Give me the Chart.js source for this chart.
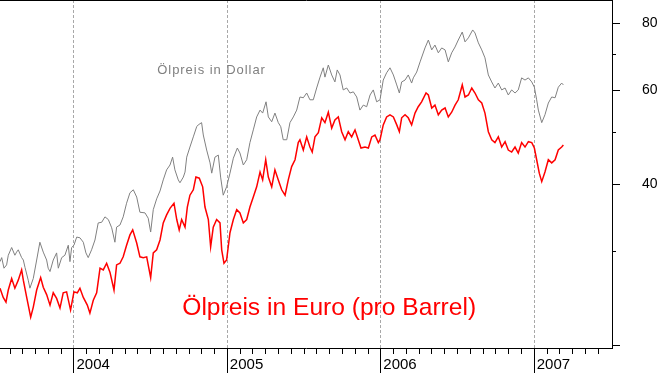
<!DOCTYPE html>
<html>
<head>
<meta charset="utf-8">
<script src="https://cdn.jsdelivr.net/npm/chart.js@4"></script>
<style>
  body { margin: 0; background: #fff; }
  canvas { display: block; }
</style>
</head>
<body>
<canvas id="chart" width="663" height="373"></canvas>
<script>
// dates are decimal years, prices per barrel
const usdDates = [
  2003.518, 2003.529, 2003.544, 2003.561, 2003.572, 2003.594, 2003.615, 2003.626, 2003.637, 2003.659,
  2003.670, 2003.681, 2003.702, 2003.713, 2003.735, 2003.757, 2003.778, 2003.800, 2003.822, 2003.832,
  2003.844, 2003.865, 2003.887, 2003.898, 2003.920, 2003.941, 2003.963, 2003.974, 2003.985, 2004.000,
  2004.018, 2004.039, 2004.061, 2004.078, 2004.093, 2004.115, 2004.137, 2004.158, 2004.181, 2004.202,
  2004.224, 2004.246, 2004.267, 2004.278, 2004.300, 2004.321, 2004.343, 2004.365, 2004.387, 2004.409,
  2004.430, 2004.463, 2004.484, 2004.500, 2004.517, 2004.539, 2004.561, 2004.582, 2004.604, 2004.626,
  2004.643, 2004.658, 2004.680, 2004.691, 2004.713, 2004.724, 2004.735, 2004.756, 2004.778, 2004.800,
  2004.810, 2004.832, 2004.843, 2004.865, 2004.887, 2004.898, 2004.919, 2004.941, 2004.956, 2004.973,
  2004.995, 2005.017, 2005.039, 2005.065, 2005.082, 2005.104, 2005.126, 2005.147, 2005.169, 2005.191,
  2005.213, 2005.230, 2005.252, 2005.267, 2005.289, 2005.310, 2005.332, 2005.348, 2005.364, 2005.387,
  2005.408, 2005.430, 2005.452, 2005.473, 2005.495, 2005.517, 2005.538, 2005.560, 2005.582, 2005.604,
  2005.625, 2005.636, 2005.658, 2005.680, 2005.701, 2005.716, 2005.734, 2005.755, 2005.778, 2005.799,
  2005.821, 2005.843, 2005.864, 2005.886, 2005.908, 2005.930, 2005.951, 2005.973, 2005.995, 2006.016,
  2006.038, 2006.060, 2006.082, 2006.104, 2006.121, 2006.136, 2006.158, 2006.179, 2006.201, 2006.212,
  2006.234, 2006.256, 2006.288, 2006.310, 2006.332, 2006.353, 2006.375, 2006.397, 2006.419, 2006.440,
  2006.462, 2006.484, 2006.505, 2006.531, 2006.549, 2006.571, 2006.599, 2006.614, 2006.636, 2006.658,
  2006.679, 2006.701, 2006.723, 2006.744, 2006.766, 2006.788, 2006.810, 2006.831, 2006.853, 2006.875,
  2006.896, 2006.918, 2006.940, 2006.962, 2006.984, 2007.001, 2007.016, 2007.027, 2007.049, 2007.070,
  2007.092, 2007.114, 2007.136, 2007.157, 2007.179, 2007.190
];
const usdPrices = [
  28.7, 29.2, 27.9, 28.3, 29.5, 30.5, 29.5, 29.9, 30.2, 29.2,
  28.9, 28.0, 26.5, 25.6, 26.7, 28.9, 31.2, 29.9, 28.9, 27.9,
  27.5, 28.9, 29.8, 27.9, 29.2, 29.5, 30.8, 28.7, 30.5, 30.8,
  31.9, 31.8, 31.2, 29.8, 29.2, 30.2, 31.5, 33.9, 34.0, 34.8,
  34.4, 33.2, 31.2, 33.3, 33.6, 34.8, 36.9, 38.6, 39.1, 37.9,
  35.5, 35.4, 34.6, 32.6, 35.9, 37.6, 38.9, 40.8, 42.6, 43.5,
  45.0, 42.6, 40.8, 40.3, 41.3, 42.2, 45.0, 47.0, 49.1, 51.3,
  51.7, 52.2, 49.5, 46.4, 43.9, 42.0, 45.0, 45.4, 41.3, 38.2,
  39.6, 42.0, 44.8, 46.8, 45.8, 43.5, 44.5, 47.9, 50.6, 53.5,
  55.1, 54.4, 57.1, 53.5, 52.4, 54.4, 52.2, 51.3, 48.5, 48.5,
  52.2, 53.5, 55.1, 58.3, 58.1, 59.3, 57.6, 57.6, 60.6, 63.5,
  66.1, 63.5, 66.9, 64.1, 62.2, 65.5, 64.1, 60.1, 60.6, 59.3,
  59.6, 58.3, 55.1, 56.3, 55.9, 58.8, 60.1, 57.1, 57.6, 62.7,
  64.7, 66.1, 64.1, 61.4, 59.3, 62.2, 62.7, 64.1, 61.9, 63.3,
  64.9, 67.8, 72.0, 74.5, 71.4, 72.9, 70.5, 72.0, 71.4, 67.8,
  70.5, 72.3, 74.5, 77.1, 73.9, 75.2, 77.8, 76.8, 73.6, 71.4,
  69.0, 64.1, 62.2, 60.6, 61.9, 60.1, 60.6, 58.8, 60.1, 59.3,
  60.1, 63.3, 62.7, 63.3, 62.2, 60.8, 57.6, 55.1, 52.2, 54.0,
  56.8, 58.3, 58.1, 60.8, 61.9, 61.4
];
const eurDates = [
  2003.518, 2003.539, 2003.557, 2003.572, 2003.594, 2003.615, 2003.637, 2003.659, 2003.670, 2003.692,
  2003.718, 2003.735, 2003.757, 2003.783, 2003.800, 2003.822, 2003.844, 2003.865, 2003.887, 2003.909,
  2003.930, 2003.952, 2003.978, 2004.000, 2004.022, 2004.039, 2004.061, 2004.087, 2004.104, 2004.126,
  2004.148, 2004.170, 2004.191, 2004.213, 2004.235, 2004.261, 2004.278, 2004.300, 2004.321, 2004.343,
  2004.365, 2004.383, 2004.409, 2004.430, 2004.452, 2004.474, 2004.500, 2004.517, 2004.539, 2004.561,
  2004.582, 2004.604, 2004.626, 2004.652, 2004.670, 2004.686, 2004.702, 2004.724, 2004.739, 2004.756,
  2004.778, 2004.795, 2004.817, 2004.839, 2004.854, 2004.876, 2004.891, 2004.908, 2004.930, 2004.952,
  2004.963, 2004.978, 2004.995, 2005.017, 2005.039, 2005.061, 2005.082, 2005.104, 2005.126, 2005.147,
  2005.169, 2005.191, 2005.213, 2005.230, 2005.250, 2005.267, 2005.289, 2005.310, 2005.332, 2005.354,
  2005.376, 2005.397, 2005.419, 2005.441, 2005.462, 2005.473, 2005.495, 2005.517, 2005.538, 2005.553,
  2005.571, 2005.593, 2005.615, 2005.636, 2005.658, 2005.680, 2005.701, 2005.723, 2005.745, 2005.767,
  2005.788, 2005.810, 2005.832, 2005.853, 2005.871, 2005.897, 2005.919, 2005.941, 2005.962, 2005.984,
  2005.995, 2006.016, 2006.038, 2006.060, 2006.082, 2006.104, 2006.121, 2006.136, 2006.158, 2006.179,
  2006.201, 2006.223, 2006.244, 2006.266, 2006.295, 2006.310, 2006.332, 2006.353, 2006.375, 2006.397,
  2006.419, 2006.440, 2006.462, 2006.484, 2006.505, 2006.531, 2006.549, 2006.571, 2006.593, 2006.614,
  2006.636, 2006.658, 2006.679, 2006.701, 2006.723, 2006.744, 2006.766, 2006.788, 2006.810, 2006.831,
  2006.853, 2006.875, 2006.896, 2006.918, 2006.940, 2006.962, 2006.984, 2007.001, 2007.016, 2007.033,
  2007.049, 2007.070, 2007.092, 2007.114, 2007.136, 2007.157, 2007.179, 2007.190
];
const eurPrices = [
  25.6, 24.6, 24.1, 25.4, 26.7, 25.6, 26.5, 27.7, 26.5, 24.6,
  22.6, 23.6, 25.4, 26.8, 25.7, 24.9, 23.8, 25.1, 24.5, 23.5,
  25.1, 25.2, 23.3, 25.2, 25.1, 25.6, 24.6, 23.8, 23.0, 24.3,
  25.1, 27.9, 27.7, 28.5, 27.4, 25.4, 28.3, 28.5, 29.3, 30.8,
  32.2, 32.9, 31.1, 29.3, 29.2, 29.3, 26.8, 29.8, 30.2, 31.5,
  33.9, 35.1, 36.1, 36.9, 34.4, 32.9, 34.4, 33.3, 36.3, 38.2,
  39.1, 41.3, 41.1, 39.6, 36.3, 34.4, 30.6, 33.3, 34.4, 33.9,
  30.2, 28.5, 28.9, 32.5, 34.4, 35.9, 35.4, 33.9, 34.4, 36.3,
  37.9, 39.6, 42.2, 40.8, 44.5, 41.3, 39.6, 42.6, 40.8, 39.1,
  38.2, 40.8, 43.2, 44.5, 47.9, 48.5, 46.4, 49.1, 47.0, 46.0,
  49.1, 50.0, 53.3, 52.2, 54.6, 51.0, 52.8, 53.5, 50.2, 48.5,
  50.2, 49.1, 50.6, 48.5, 46.8, 47.0, 46.8, 49.1, 49.5, 47.9,
  48.5, 51.7, 53.5, 54.0, 53.5, 51.7, 50.2, 53.3, 54.0, 53.3,
  51.7, 54.4, 55.9, 57.1, 59.3, 58.8, 55.6, 56.3, 54.0, 55.1,
  55.6, 53.5, 54.6, 56.3, 57.6, 61.4, 58.3, 58.8, 60.6, 59.3,
  57.6, 56.8, 54.4, 50.2, 48.5, 47.9, 49.1, 47.0, 48.1, 46.4,
  46.0, 47.0, 45.8, 47.9, 47.0, 48.1, 47.9, 46.8, 44.5, 42.0,
  40.5, 42.2, 44.5, 43.9, 44.5, 46.4, 47.0, 47.4
];

const yearTicks = [2004, 2005, 2006, 2007];
const yearLabels = ['2004', '2005', '2006', '2007'];
const priceTicks = [20, 40, 60, 80];
const priceLabels = ['', '40', '60', '80'];
const minorPriceTicks = [30, 50, 70];
const dollarLabel = 'Ölpreis in Dollar';
const euroLabel = 'Ölpreis in Euro (pro Barrel)';

const xMin = 2003.518, xMax = 2007.507;
const yMin = 19.79, yMax = 88.5;

// month marks, Aug 2003 .. Jun 2007
const monthTicks = [];
for (let m = 7; m <= 53; m++) monthTicks.push(2003 + m / 12);

const FONT = "'Liberation Sans', Arial, sans-serif";

// fixed box size, no extra room for edge labels
const fixSize = (w, h) => s => {
  if (w !== null) s.width = w;
  if (h !== null) s.height = h;
  s.paddingTop = 0; s.paddingBottom = 0;
  s.paddingLeft = 0; s.paddingRight = 0;
};

// the two captions, placed through the scales
const captions = {
  id: 'captions',
  afterDatasetsDraw(chart) {
    const { ctx, scales: { x, y } } = chart;
    ctx.save();
    ctx.textAlign = 'left';
    ctx.textBaseline = 'alphabetic';
    ctx.fillStyle = '#808080';
    ctx.font = '13px ' + FONT;
    ctx.letterSpacing = '0.95px';
    ctx.fillText(dollarLabel, x.getPixelForValue(2004.543), y.getPixelForValue(64.3));
    ctx.fillStyle = '#ff0000';
    ctx.font = '24.6px ' + FONT;
    ctx.letterSpacing = '0px';
    ctx.fillText(euroLabel, x.getPixelForValue(2004.706), y.getPixelForValue(22.8));
    ctx.restore();
  }
};

new Chart(document.getElementById('chart'), {
  type: 'line',
  data: {
    datasets: [
      {
        label: 'Dollar',
        data: usdDates.map((d, i) => ({ x: d, y: usdPrices[i] })),
        borderColor: '#808080',
        borderWidth: 1,
        pointRadius: 0,
        tension: 0
      },
      {
        label: 'Euro',
        data: eurDates.map((d, i) => ({ x: d, y: eurPrices[i] })),
        borderColor: '#ff0000',
        borderWidth: 1.5,
        pointRadius: 0,
        tension: 0
      }
    ]
  },
  options: {
    responsive: false,
    animation: false,
    devicePixelRatio: 1,
    layout: { padding: 0 },
    plugins: { legend: { display: false }, tooltip: { enabled: false } },
    scales: {
      x: {
        type: 'linear', position: 'bottom', weight: 0,
        min: xMin, max: xMax, bounds: 'data',
        afterBuildTicks: s => { s.ticks = monthTicks.map(v => ({ value: v })); },
        afterFit: fixSize(null, 0),
        grid: { drawOnChartArea: false, tickLength: 6, color: '#000', tickColor: '#000' },
        border: { display: true, color: '#000', width: 1 },
        ticks: { display: false, autoSkip: false }
      },
      xYear: {
        type: 'linear', position: 'bottom', weight: 1,
        min: xMin, max: xMax, bounds: 'data',
        afterBuildTicks: s => { s.ticks = yearTicks.map(v => ({ value: v })); },
        afterFit: fixSize(null, 25),
        grid: { drawOnChartArea: true, color: '#a8a8a8', tickLength: 25, tickColor: '#000', tickBorderDash: [] },
        border: { display: false, dash: [3, 2] },
        ticks: {
          autoSkip: false, maxRotation: 0, align: 'start', labelOffset: 2.5, padding: -17,
          color: '#000', font: { family: FONT, size: 15 },
          callback: (v, i) => yearLabels[i]
        }
      },
      xTop: {
        type: 'linear', position: 'top', min: xMin, max: xMax,
        afterFit: fixSize(null, 0),
        grid: { display: false },
        border: { display: true, color: '#000', width: 1 },
        ticks: { display: false }
      },
      y: {
        type: 'logarithmic', position: 'right', weight: 1,
        min: yMin, max: yMax, bounds: 'data',
        afterBuildTicks: s => { s.ticks = priceTicks.map(v => ({ value: v })); },
        afterFit: fixSize(51, null),
        grid: { drawOnChartArea: false, tickLength: 8, color: '#000', tickColor: '#000' },
        border: { display: true, color: '#000', width: 1 },
        ticks: {
          autoSkip: false, padding: 22, color: '#000', font: { family: FONT, size: 14 },
          callback: (v, i) => priceLabels[i]
        }
      },
      yMinor: {
        type: 'logarithmic', position: 'right', weight: 0,
        min: yMin, max: yMax, bounds: 'data',
        afterBuildTicks: s => { s.ticks = minorPriceTicks.map(v => ({ value: v })); },
        afterFit: fixSize(0, null),
        grid: { drawOnChartArea: false, tickLength: 4, color: '#000', tickColor: '#000' },
        border: { display: false },
        ticks: { display: false, autoSkip: false }
      }
    }
  },
  plugins: [captions]
});
</script>
</body>
</html>
